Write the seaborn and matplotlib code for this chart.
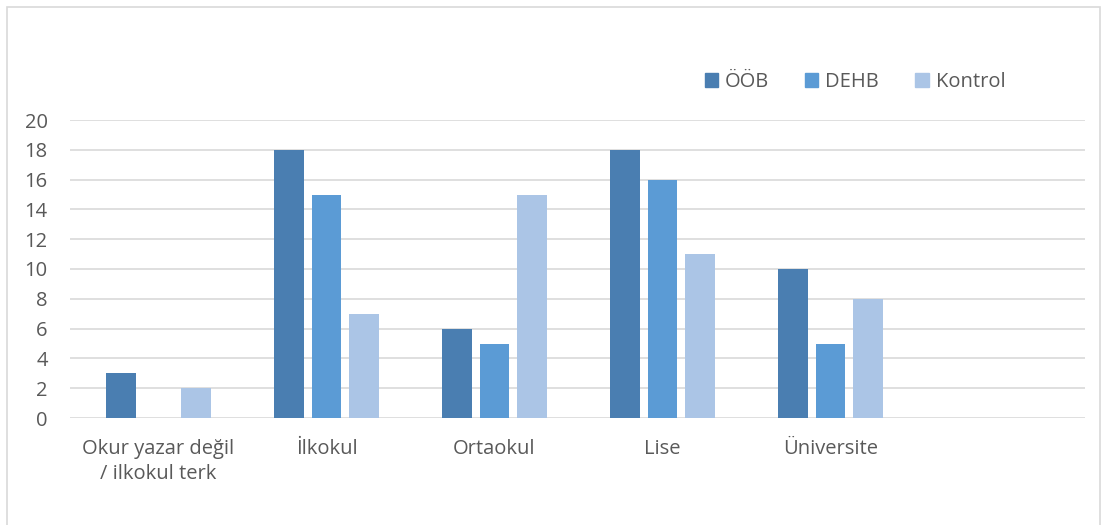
import matplotlib
matplotlib.use("Agg")
import matplotlib.pyplot as plt
import seaborn as sns
import pandas as pd
from matplotlib.patches import Rectangle

# data
categories = ["Okur yazar değil\n/ ilkokul terk", "İlkokul", "Ortaokul", "Lise", "Üniversite"]
oob = [3, 18, 6, 18, 10]
dehb = [0, 15, 5, 16, 5]
kontrol = [2, 7, 15, 11, 8]
series_names = ["ÖÖB", "DEHB", "Kontrol"]
colors = ["#4a7eb1", "#5b9bd5", "#abc5e6"]

rows = []
for name, vals in zip(series_names, [oob, dehb, kontrol]):
    for cat, v in zip(categories, vals):
        rows.append({"Eğitim": cat, "Grup": name, "n": v})
df = pd.DataFrame(rows)

sns.set_style("white")
plt.rcParams["font.family"] = ["Open Sans", "DejaVu Sans"]
text_color = "#595959"
fs = 14.5

fig = plt.figure(figsize=(11.06, 5.25), dpi=100)
ax = fig.add_axes([70 / 1106, 1 - 418 / 525, 1015 / 1106, 298 / 525])

# an empty sixth slot, as in the original chart
order = categories + [" "]
sns.barplot(data=df, x="Eğitim", y="n", hue="Grup", order=order,
            hue_order=series_names, palette=colors, width=0.666, gap=0.2,
            saturation=1, linewidth=0, legend=False, ax=ax)

ax.set_ylim(0, 20)
ax.set_yticks(range(0, 21, 2))
ax.set_xlim(-0.5 - 4.5 / 168, len(order) - 0.5 + 2.5 / 168)
ax.yaxis.grid(True, color="#d9d9d9", linewidth=1.2)
ax.set_axisbelow(True)
for s in ax.spines.values():
    s.set_visible(False)
ax.set_xlabel("")
ax.set_ylabel("")
ax.tick_params(axis="both", length=0, labelsize=fs, colors=text_color)
ax.tick_params(axis="y", pad=16)
ax.tick_params(axis="x", pad=15)
for lbl in ax.get_xticklabels():
    lbl.set_linespacing(1.35)

handles = [Rectangle((0, 0), 1, 1, color=c) for c in colors]
fig.legend(handles, series_names, loc="center", bbox_to_anchor=(0.773, 1 - 82 / 525),
           ncol=3, frameon=False, fontsize=fs, handlelength=0.65, handleheight=0.65,
           handletextpad=0.35, columnspacing=1.8, labelcolor=text_color)

# outer chart frame
fig.patches.append(Rectangle((7 / 1106, -0.01), 1093 / 1106, 1 - 7 / 525 + 0.01,
                             transform=fig.transFigure, fill=False,
                             edgecolor="#d9d9d9", linewidth=1.2))

fig.savefig("out.png", dpi=100)
